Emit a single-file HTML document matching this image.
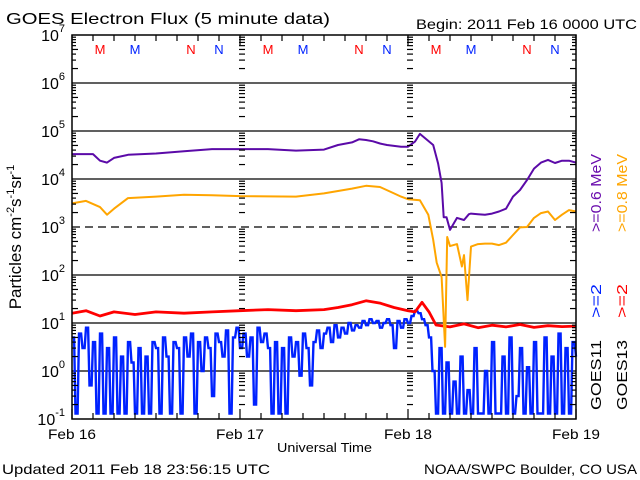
<!DOCTYPE html>
<html><head><meta charset="utf-8"><style>
body{margin:0;background:#fff;}
svg{display:block;font-family:"Liberation Sans",sans-serif;}
</style></head><body>
<svg id="chart" width="640" height="480" viewBox="0 0 640 480">
<rect width="640" height="480" fill="#fff"/>
<text x="6" y="24" font-size="16" textLength="324" lengthAdjust="spacingAndGlyphs">GOES Electron Flux (5 minute data)</text>
<text x="416" y="29" font-size="14" textLength="221" lengthAdjust="spacingAndGlyphs">Begin: 2011 Feb 16 0000 UTC</text>
<text transform="translate(21,237) rotate(-90)" font-size="17" text-anchor="middle">Particles cm<tspan font-size="11" dy="-7">-2</tspan><tspan dy="7">s</tspan><tspan font-size="11" dy="-7">-1</tspan><tspan dy="7">sr</tspan><tspan font-size="11" dy="-7">-1</tspan></text>
<text x="277" y="452" font-size="13" textLength="95" lengthAdjust="spacingAndGlyphs">Universal Time</text>
<text x="2" y="474" font-size="14" textLength="268" lengthAdjust="spacingAndGlyphs">Updated 2011 Feb 18 23:56:15 UTC</text>
<text x="424" y="474" font-size="14" textLength="213" lengthAdjust="spacingAndGlyphs">NOAA/SWPC Boulder, CO USA</text>
<g id="grid"></g><g id="series"></g><g id="axes"></g>
<g font-size="15">
<text transform="translate(601,232) rotate(-90)" fill="#6a0dad" textLength="78" lengthAdjust="spacingAndGlyphs">&gt;=0.6 MeV</text>
<text transform="translate(627,232) rotate(-90)" fill="#ffa500" textLength="78" lengthAdjust="spacingAndGlyphs">&gt;=0.8 MeV</text>
<text transform="translate(601,318) rotate(-90)" fill="#0022ff" textLength="34" lengthAdjust="spacingAndGlyphs">&gt;=2</text>
<text transform="translate(627,318) rotate(-90)" fill="#ff0000" textLength="34" lengthAdjust="spacingAndGlyphs">&gt;=2</text>
<text transform="translate(601,410) rotate(-90)" textLength="70" lengthAdjust="spacingAndGlyphs">GOES11</text>
<text transform="translate(627,410) rotate(-90)" textLength="70" lengthAdjust="spacingAndGlyphs">GOES13</text>
</g>
</svg>
<script>
const dayLabels=["Feb 16","Feb 17","Feb 18","Feb 19"];
const decades=[-1,0,1,2,3,4,5,6,7];
const mnLetters=["M","M","N","N","M","M","N","N","M","M","N","N"];
const mnHours=[4,9,17,21,28,33,41,45,52,57,65,69];
const mnColors=["#ff0000","#0022ff","#ff0000","#0022ff","#ff0000","#0022ff","#ff0000","#0022ff","#ff0000","#0022ff","#ff0000","#0022ff"];
const purpleHours=[0,3,4,5,6,8,12,16,20,24,28,32,36,38,40,41,42,43,44,45,46,47,48,49,49.7,51.6,52.3,52.8,53.1,53.5,54,55,56,56.7,57,58,59,60,61,62,63,64,65,66,67,68,69,70,71,72];
const purpleVals=[3.3e4,3.3e4,2.4e4,2.2e4,2.75e4,3.2e4,3.4e4,3.8e4,4.2e4,4.2e4,4.2e4,3.9e4,4.1e4,5.1e4,5.8e4,6.7e4,6.5e4,6.1e4,5.5e4,5.1e4,4.9e4,4.7e4,4.7e4,6e4,8.7e4,5.1e4,2.1e4,8.3e3,1.6e3,1.6e3,8.7e2,1.55e3,1.4e3,1.85e3,1.9e3,1.85e3,1.8e3,1.9e3,2.1e3,2.4e3,4.3e3,5.9e3,9.5e3,1.65e4,2.2e4,2.5e4,2.15e4,2.4e4,2.4e4,2.2e4];
const orangeHours=[0,2,4,5,6,8,12,16,20,24,32,36,40,42,44,46,47,48,49.7,50.9,51.6,52.1,52.8,53.3,53.6,54,55,55.7,56,56.5,57,58,59,60,61,62,63,64,65,66,67,68,69,70,71,72];
const orangeVals=[3.1e3,3.5e3,2.6e3,1.8e3,2.4e3,4e3,4.3e3,4.7e3,4.6e3,4.4e3,4.3e3,5e3,6.3e3,7.2e3,6.8e3,5e3,4.3e3,3.8e3,3.6e3,1.8e3,5.4e2,1.8e2,91,3.2,6.2e2,4e2,4.4e2,1.5e2,2.6e2,30,3.9e2,4.4e2,4.5e2,4.5e2,4.2e2,4.7e2,6.8e2,9.8e2,1e3,1.55e3,1.95e3,2.1e3,1.4e3,1.8e3,2.25e3,2.1e3];
const redHours=[0,2,4,6,9,12,16,20,24,28,32,36,38,40,42,44,46,48,49,50,51,52,54,56,58,60,62,64,66,68,70,72];
const redVals=[16,18,14,17,15,17,16,17,18,19,18,19,21,24,29,26,21,18,17,27,17,9.1,8.3,9.6,8.0,9.0,8.3,9.3,8.1,8.8,8.4,8.6];
const blueVals=[5,0.13,6,3,8,0.5,4,0.13,6,0.13,3,0.13,5,0.13,2,0.13,4,1.5,0.13,3,0.13,2,0.13,4,
3,0.13,5,2,0.13,4,3,0.13,5,2,6,0.13,4,1,5,3,0.3,6,4,2,7,0.13,5,8,
3,6,2,5,0.2,8,4,6,3,0.13,4,0.13,3,0.13,5,2,4,0.8,6,3,0.5,4,7,3,
6,8,4,9,5,8,6,10,7,9,8,11,9,12,10,11,8,10,12,9,3,11,8,12,
10,14,18,16,12,9,5,1,
0.13,3,0.13,1.5,0.13,0.6,0.13,2,0.13,0.4,0.13,3,0.13,0.13,1,0.13,4,0.13,0.13,2,0.13,5,0.13,0.3,3,0.13,1.2,0.13,4,0.13,0.13,5,0.13,2,0.13,6,0.13,3,0.13,4,2];
const blueStep=0.5;

const X0=72,X1=576,Y0=35,Y1=419;
const xs=h=>X0+(X1-X0)*h/72;
const ys=v=>371-48*Math.log10(v);
const NS="http://www.w3.org/2000/svg";
function mk(tag,attrs,parent){const e=document.createElementNS(NS,tag);for(const k in attrs)e.setAttribute(k,attrs[k]);parent.appendChild(e);return e;}
const grid=document.getElementById('grid'),axes=document.getElementById('axes'),ser=document.getElementById('series');
decades.forEach(d=>{
  const y=ys(Math.pow(10,d));
  if(d>-1&&d<7){
    const l=mk('line',{x1:X0,x2:X1,y1:y,y2:y,stroke:'#000','stroke-width':1.3},grid);
    if(d===3)l.setAttribute('stroke-dasharray','8,5');
    
    
  }
  const t=mk('text',{x:X0-7,y:y+6,'font-size':16,'text-anchor':'end'},axes);
  
  
  t.textContent='10';
  const s=mk('tspan',{'font-size':11,dy:-9},t);s.textContent=String(d);
  if(d<7){for(let m=2;m<=9;m++){const yy=ys(m*Math.pow(10,d));
    [[X0,X0+(m===2||m===5?6:4)],[X1-(m===2||m===5?6:4),X1],[239,245],[407,413]].forEach(p=>{
      const tk=mk('line',{x1:p[0],x2:p[1],y1:yy,y2:yy,stroke:'#000','stroke-width':1.2},axes);
      
      
    });}}
});
for(let h=0;h<=72;h+=3){
  const x=xs(h),len=(h%24===0)?10:6;
  [[Y1,Y1-len],[Y0,Y0+len]].forEach(p=>{const tk=mk('line',{x1:x,x2:x,y1:p[0],y2:p[1],stroke:'#000','stroke-width':1.2},axes);
  
  });
}
dayLabels.forEach((lab,i)=>{const t=mk('text',{x:xs(i*24),y:439,'font-size':14,'text-anchor':'middle',textLength:48,lengthAdjust:'spacingAndGlyphs'},axes);
  
  
  t.textContent=lab;});
mnLetters.forEach((L,i)=>{const t=mk('text',{x:xs(mnHours[i]),y:54,'font-size':13,'text-anchor':'middle',fill:mnColors[i]},axes);
  
  
  t.textContent=L;});
const fr=mk('rect',{x:X0,y:Y0,width:X1-X0,height:Y1-Y0,fill:'none',stroke:'#000','stroke-width':1.5},axes);


function line(hours,vals,color,name,w){
  const d=hours.map((h,i)=>(i?'L':'M')+xs(h).toFixed(1)+','+ys(vals[i]).toFixed(1)).join('');
  const p=mk('path',{d:d,fill:'none',stroke:color,'stroke-width':w,'stroke-linejoin':'round'},ser);
  
  
}
let bd='';blueVals.forEach((v,i)=>{const x=xs(i*blueStep),y=ys(v).toFixed(1);bd+=(i?'L'+x.toFixed(1)+','+y:'M'+x.toFixed(1)+','+y)+'L'+Math.min(X1,xs(i*blueStep+blueStep*0.6)).toFixed(1)+','+y;});
const bp=mk('path',{d:bd,fill:'none',stroke:'#0022ff','stroke-width':2.4},ser);


line(redHours,redVals,'#ff0000','goes13-2mev-series',2.8);
line(orangeHours,orangeVals,'#ffa500','goes13-08mev-series',2);
line(purpleHours,purpleVals,'#5b0aa8','goes11-06mev-series',2);
</script>
</body></html>
